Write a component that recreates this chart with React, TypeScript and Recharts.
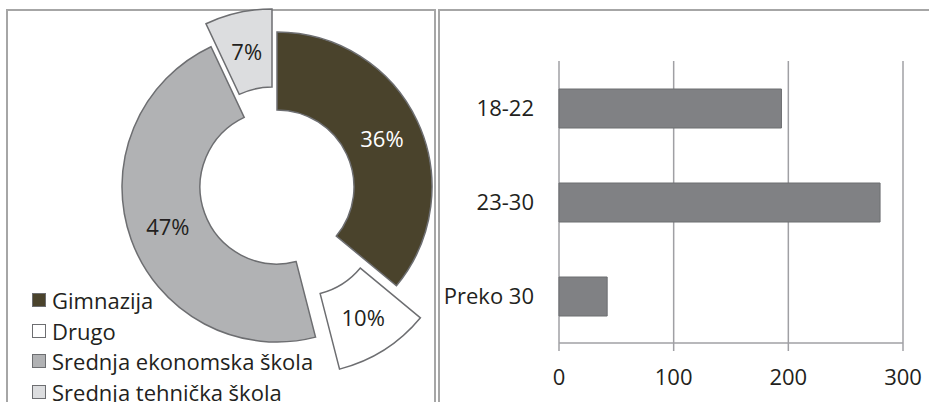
import React from 'react';
import { PieChart, Pie, Cell, Legend, BarChart, Bar, XAxis, YAxis, CartesianGrid } from 'recharts';

const schools = ['Gimnazija', 'Drugo', 'Srednja ekonomska škola', 'Srednja tehnička škola'];
const schoolShares = [36, 10, 47, 7];
const schoolColors = ['#4a432c', '#ffffff', '#b1b2b4', '#dcdddf'];
const labelColors = ['#ffffff', '#231f20', '#231f20', '#231f20'];

const ageGroups = ['18-22', '23-30', 'Preko 30'];
const ageCounts = [194, 280, 42];
const countTicks = [0, 100, 200, 300];

const pieData = schools.map((name, i) => ({ name, value: schoolShares[i] }));
const barData = ageGroups.map((name, i) => ({ name, count: ageCounts[i] }));

const RADIAN = Math.PI / 180;
const TEXT = '#231f20';
const GRID = '#a0a0a4';
const FONT = 22;

// donut center and the offsets of the two pulled-out slices
const CX = 277;
const CY = 187;
const layers = [
  { dx: 0, dy: 0, show: [0, 2] },
  { dx: 24, dy: 32, show: [1] },
  { dx: -5, dy: -23, show: [3] },
];

function makeLabel(show: number[]) {
  return (p: any) => {
    if (!show.includes(p.index)) return null;
    const r = (p.innerRadius + p.outerRadius) / 2;
    const x = p.cx + r * Math.cos(-p.midAngle * RADIAN);
    const y = p.cy + r * Math.sin(-p.midAngle * RADIAN);
    return (
      <text x={x} y={y} fill={labelColors[p.index]} fontSize={FONT} textAnchor="middle" dominantBaseline="central">
        {`${schoolShares[p.index]}%`}
      </text>
    );
  };
}

function SchoolLegend() {
  return (
    <div style={{ fontSize: FONT, color: TEXT }}>
      {schools.map((s, i) => (
        <div key={s} style={{ display: 'flex', alignItems: 'center', height: 30.5 }}>
          <span
            style={{
              display: 'inline-block',
              width: 12,
              height: 12,
              background: schoolColors[i],
              border: '1.5px solid #6d6e71',
              marginRight: 6,
            }}
          />
          <span>{s}</span>
        </div>
      ))}
    </div>
  );
}

export default function App() {
  return (
    <div
      style={{
        position: 'absolute',
        left: 0,
        top: 0,
        width: 929,
        height: 402,
        overflow: 'hidden',
        background: '#fff',
        fontFamily: '"Open Sans", sans-serif',
      }}
    >
      <div style={{ position: 'absolute', left: 6, top: 9, width: 426, height: 420, border: '2px solid #a6a6a6' }} />
      <div style={{ position: 'absolute', left: 438, top: 9, width: 520, height: 420, border: '2px solid #a6a6a6' }} />

      <div style={{ position: 'absolute', left: 0, top: 0 }}>
        <PieChart width={440} height={402} margin={{ top: 0, right: 0, bottom: 0, left: 0 }}>
          {layers.map((l, k) => (
            <Pie
              key={k}
              data={pieData}
              dataKey="value"
              nameKey="name"
              cx={CX + l.dx}
              cy={CY + l.dy}
              innerRadius={77}
              outerRadius={155}
              startAngle={90}
              endAngle={-270}
              stroke="#6d6e71"
              strokeWidth={1.5}
              label={makeLabel(l.show)}
              labelLine={false}
              isAnimationActive={false}
            >
              {pieData.map((d, i) => (
                <Cell
                  key={d.name}
                  fill={l.show.includes(i) ? schoolColors[i] : 'none'}
                  stroke={l.show.includes(i) ? '#6d6e71' : 'none'}
                />
              ))}
            </Pie>
          ))}
          <Legend
            layout="horizontal"
            verticalAlign="bottom"
            content={() => <SchoolLegend />}
            wrapperStyle={{ left: 32, top: 285, bottom: 'auto', width: 'auto' }}
          />
        </PieChart>
      </div>

      <div style={{ position: 'absolute', left: 440, top: 0 }}>
        <BarChart
          width={489}
          height={402}
          layout="vertical"
          data={barData}
          margin={{ top: 61, right: 26, bottom: 0, left: 0 }}
        >
          <CartesianGrid horizontal={false} stroke={GRID} strokeWidth={1.5} />
          <XAxis
            type="number"
            domain={[0, 300]}
            ticks={countTicks}
            height={59}
            tickSize={8}
            tickMargin={18}
            axisLine={{ stroke: GRID, strokeWidth: 1.5 }}
            tickLine={{ stroke: GRID, strokeWidth: 1.5 }}
            tick={{ fill: TEXT, fontSize: FONT }}
          />
          <YAxis
            yAxisId="cat"
            type="category"
            dataKey="name"
            width={119}
            axisLine={false}
            tickLine={false}
            tickSize={6}
            tickMargin={19}
            tick={{ fill: TEXT, fontSize: FONT }}
          />
          <YAxis
            yAxisId="marks"
            type="number"
            domain={[0, 3]}
            ticks={[0, 1, 2, 3]}
            width={0}
            tick={false}
            tickSize={7}
            axisLine={{ stroke: GRID, strokeWidth: 1.5 }}
            tickLine={{ stroke: GRID, strokeWidth: 1.5 }}
          />
          <Bar
            yAxisId="cat"
            dataKey="count"
            fill="#808184"
            stroke="#6d6e71"
            strokeWidth={1}
            barSize={39}
            isAnimationActive={false}
          />
        </BarChart>
      </div>
    </div>
  );
}
